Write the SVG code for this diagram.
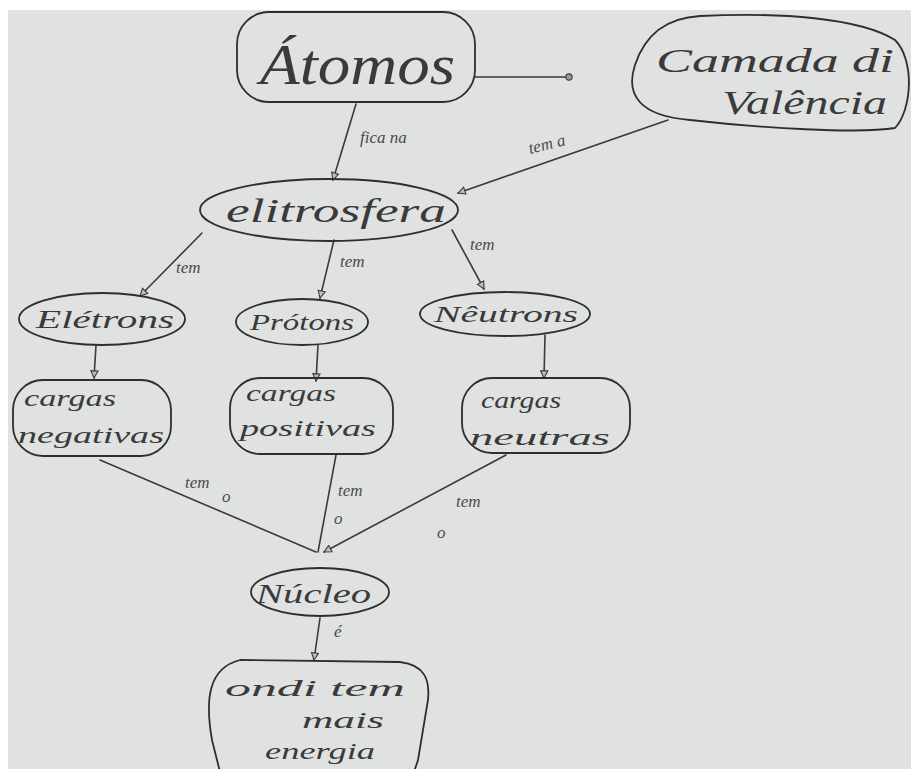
<svg xmlns="http://www.w3.org/2000/svg" width="911" height="769" viewBox="0 0 911 769">
  <defs>
    <style>
      .ln { fill: none; stroke: #3a3a3a; stroke-width: 1.6; stroke-linecap: round; }
      .shape { fill: none; stroke: #2e2e2e; stroke-width: 1.8; }
      .t { font-family: "Liberation Serif", "DejaVu Serif", serif; font-style: italic; fill: #3a3a3a; }
      .lbl { font-family: "Liberation Serif", "DejaVu Serif", serif; font-style: italic; fill: #4a4a4a; font-size: 17px; }
    </style>
    <marker id="tri" viewBox="0 0 10 10" refX="9" refY="5" markerWidth="9" markerHeight="9" orient="auto" markerUnits="userSpaceOnUse">
      <path d="M1,1 L9,5 L1,9 Z" fill="#bdbdbd" stroke="#3a3a3a" stroke-width="1.2"/>
    </marker>
    <marker id="dot" viewBox="0 0 10 10" refX="5" refY="5" markerWidth="9" markerHeight="9" markerUnits="userSpaceOnUse">
      <circle cx="5" cy="5" r="3.5" fill="#9a9a9a" stroke="#3a3a3a" stroke-width="1.2"/>
    </marker>
  </defs>

  <!-- paper -->
  <rect x="0" y="0" width="911" height="769" fill="#ffffff"/>
  <rect x="8" y="10" width="903" height="759" fill="#e0e1e1"/>

  <!-- connectors -->
  <g id="connectors">
    <line class="ln" x1="475" y1="77" x2="569" y2="77" marker-end="url(#dot)"/>
    <line class="ln" x1="356" y1="104" x2="333" y2="180" marker-end="url(#tri)"/>
    <text class="lbl" x="360" y="143">fica na</text>
    <line class="ln" x1="668" y1="120" x2="458" y2="193" marker-end="url(#tri)"/>
    <text class="lbl" x="530" y="154" transform="rotate(-14 530 154)">tem a</text>

    <line class="ln" x1="202" y1="233" x2="140" y2="296" marker-end="url(#tri)"/>
    <text class="lbl" x="176" y="273">tem</text>
    <line class="ln" x1="334" y1="240" x2="320" y2="298" marker-end="url(#tri)"/>
    <text class="lbl" x="340" y="267">tem</text>
    <line class="ln" x1="452" y1="230" x2="484" y2="289" marker-end="url(#tri)"/>
    <text class="lbl" x="470" y="250">tem</text>

    <line class="ln" x1="96" y1="345" x2="94" y2="378" marker-end="url(#tri)"/>
    <line class="ln" x1="318" y1="345" x2="316" y2="381" marker-end="url(#tri)"/>
    <line class="ln" x1="545" y1="335" x2="544" y2="378" marker-end="url(#tri)"/>

    <line class="ln" x1="100" y1="460" x2="316" y2="552"/>
    <line class="ln" x1="336" y1="455" x2="318" y2="552"/>
    <line class="ln" x1="506" y1="455" x2="324" y2="552" marker-end="url(#tri)"/>
    <text class="lbl" x="185" y="488">tem</text>
    <text class="lbl" x="222" y="502">o</text>
    <text class="lbl" x="338" y="496">tem</text>
    <text class="lbl" x="334" y="524">o</text>
    <text class="lbl" x="456" y="507">tem</text>
    <text class="lbl" x="437" y="538">o</text>

    <line class="ln" x1="320" y1="618" x2="314" y2="660" marker-end="url(#tri)"/>
    <text class="lbl" x="334" y="637">é</text>
  </g>

  <g id="atomos">
    <rect class="shape" x="237" y="12" width="238" height="90" rx="32"/>
    <text class="t" x="260" y="84" font-size="58" textLength="195" lengthAdjust="spacingAndGlyphs">Átomos</text>
  </g>

  <g id="camada">
    <path class="shape" d="M700,16 C780,12 860,18 895,40 C915,60 912,110 895,128 C860,134 760,128 690,120 C640,116 625,95 635,65 C645,35 665,18 700,16 Z"/>
    <text class="t" x="656" y="72" font-size="34" textLength="238" lengthAdjust="spacingAndGlyphs">Camada di</text>
    <text class="t" x="722" y="114" font-size="34" textLength="165" lengthAdjust="spacingAndGlyphs">Valência</text>
  </g>

  <g id="eletrosfera">
    <ellipse class="shape" cx="329" cy="210" rx="129" ry="31"/>
    <text class="t" x="226" y="222" font-size="34" textLength="220" lengthAdjust="spacingAndGlyphs">elitrosfera</text>
  </g>

  <g id="eletrons">
    <ellipse class="shape" cx="102" cy="319" rx="83" ry="26"/>
    <text class="t" x="36" y="328" font-size="26" textLength="138" lengthAdjust="spacingAndGlyphs">Elétrons</text>
  </g>

  <g id="protons">
    <ellipse class="shape" cx="302" cy="322" rx="66" ry="23"/>
    <text class="t" x="250" y="330" font-size="24" textLength="104" lengthAdjust="spacingAndGlyphs">Prótons</text>
  </g>

  <g id="neutrons">
    <ellipse class="shape" cx="505" cy="314" rx="85" ry="22"/>
    <text class="t" x="434" y="322" font-size="24" textLength="144" lengthAdjust="spacingAndGlyphs">Nêutrons</text>
  </g>

  <g id="cargas-negativas">
    <rect class="shape" x="13" y="380" width="158" height="76" rx="30"/>
    <text class="t" x="24" y="406" font-size="24" textLength="92" lengthAdjust="spacingAndGlyphs">cargas</text>
    <text class="t" x="18" y="443" font-size="24" textLength="146" lengthAdjust="spacingAndGlyphs">negativas</text>
  </g>

  <g id="cargas-positivas">
    <rect class="shape" x="230" y="378" width="163" height="76" rx="30"/>
    <text class="t" x="246" y="401" font-size="24" textLength="90" lengthAdjust="spacingAndGlyphs">cargas</text>
    <text class="t" x="240" y="436" font-size="24" textLength="136" lengthAdjust="spacingAndGlyphs">positivas</text>
  </g>

  <g id="cargas-neutras">
    <rect class="shape" x="462" y="378" width="168" height="75" rx="30"/>
    <text class="t" x="481" y="408" font-size="24" textLength="80" lengthAdjust="spacingAndGlyphs">cargas</text>
    <text class="t" x="470" y="445" font-size="24" textLength="140" lengthAdjust="spacingAndGlyphs">neutras</text>
  </g>

  <g id="nucleo">
    <ellipse class="shape" cx="320" cy="592" rx="69" ry="24"/>
    <text class="t" x="256" y="603" font-size="28" textLength="115" lengthAdjust="spacingAndGlyphs">Núcleo</text>
  </g>

  <g id="onde-tem-mais-energia">
    <path class="shape" d="M240,660 L400,662 C425,665 430,680 428,700 L418,760 L414,772 M220,772 L212,740 C205,700 208,668 240,660"/>
    <text class="t" x="225" y="696" font-size="24" textLength="180" lengthAdjust="spacingAndGlyphs">ondi tem</text>
    <text class="t" x="302" y="728" font-size="24" textLength="82" lengthAdjust="spacingAndGlyphs">mais</text>
    <text class="t" x="265" y="759" font-size="24" textLength="110" lengthAdjust="spacingAndGlyphs">energia</text>
  </g>
</svg>
